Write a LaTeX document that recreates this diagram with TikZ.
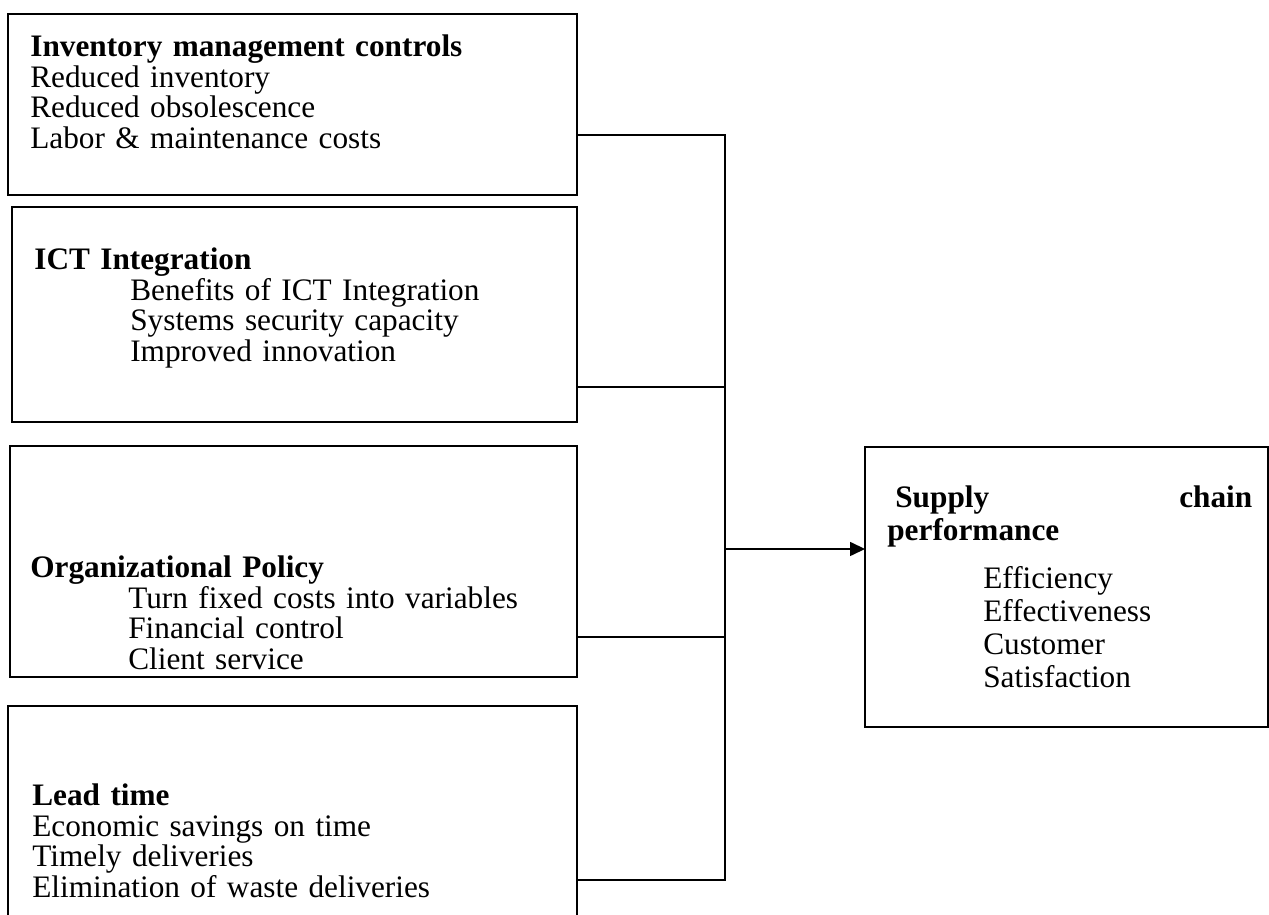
\documentclass[tikz,border=0pt]{standalone}
\usepackage{fontspec}
\setmainfont{Liberation Serif}
\usepackage{tikz}
\usetikzlibrary{arrows.meta}

\begin{document}
\begin{tikzpicture}[x=0.02cm, y=-0.02cm,
  box/.style={draw, line width=0.85pt, inner sep=0pt, outer sep=0pt},
  txt/.style={anchor=base west, inner sep=0pt, align=left, text width=10.6cm,
    font=\fontsize{17.8}{17.3}\selectfont},
  link/.style={line width=0.85pt}]
  \clip (0, 0) rectangle (1269, 915);
  % left boxes
  \node[box, minimum width=11.38cm, minimum height=3.62cm] (inv) at (292.5, 104.5) {};
  \node[box, minimum width=11.30cm, minimum height=4.30cm] (ict) at (294.5, 314.5) {};
  \node[box, minimum width=11.34cm, minimum height=4.62cm] (pol) at (293.5, 561.5) {};
  \node[box, minimum width=11.38cm, minimum height=4.58cm] (lead) at (292.5, 820.5) {};
  % outcome box
  \node[box, minimum width=8.06cm, minimum height=5.60cm] (perf) at (1066.5, 587) {};

  \node[txt] (inv-txt) at (30, 57) {\textbf{Inventory management controls}\\
    Reduced inventory\\ Reduced obsolescence\\ Labor \& maintenance costs};
  \node[txt] (ict-txt) at (34, 270) {\textbf{ICT Integration}\\
    \hspace*{1.92cm}Benefits of ICT Integration\\
    \hspace*{1.92cm}Systems security capacity\\
    \hspace*{1.92cm}Improved innovation};
  \node[txt] (pol-txt) at (30, 578) {\textbf{Organizational Policy}\\
    \hspace*{1.96cm}Turn fixed costs into variables\\
    \hspace*{1.96cm}Financial control\\
    \hspace*{1.96cm}Client service};
  \node[txt] (lead-txt) at (32, 806) {\textbf{Lead time}\\
    Economic savings on time\\ Timely deliveries\\ Elimination of waste deliveries};
  \node[txt, text width=7.3cm, font=\fontsize{17.8}{18.7}\selectfont] (perf-txt) at (887, 508)
    {\hspace*{0.16cm}\textbf{Supply}\hfill\textbf{chain}\\
    \textbf{performance}\\[0.3cm]
    \hspace*{1.92cm}Efficiency\\ \hspace*{1.92cm}Effectiveness\\
    \hspace*{1.92cm}Customer\\ \hspace*{1.92cm}Satisfaction};

  % joining line
  \coordinate (j1) at (725, 135);
  \coordinate (j2) at (725, 387);
  \coordinate (j3) at (725, 637);
  \coordinate (j4) at (725, 880);
  \coordinate (hub) at (725, 549);
  \draw[link] (j1 -| inv.east) -- (j1) -- (j4) -- (j4 -| lead.east);
  \draw[link] (j2 -| ict.east) -- (j2);
  \draw[link] (j3 -| pol.east) -- (j3);
  \draw[link, -{Triangle[length=0.3cm, width=0.28cm]}] (hub) -- (hub -| perf.west);
\end{tikzpicture}
\end{document}
